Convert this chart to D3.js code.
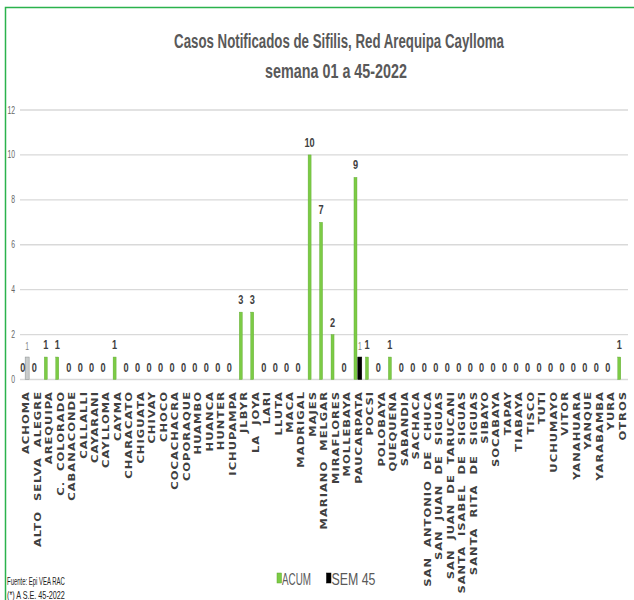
<!DOCTYPE html>
<meta charset="utf-8">
<style>
body{
  margin: 0px;
  background: white;
  font-family: "Liberation Sans", Arial, sans-serif;
}
svg{
  display: block;
}
.grid line{
  stroke: #d9d9d9;
  stroke-width: 1.3px;
}
.xlab{
  font-family: "DejaVu Sans", Verdana, sans-serif;
  font-weight: bold;
  fill: #404040;
}
</style>
<body>
<div id='chart'></div>
<script src="https://cdn.jsdelivr.net/npm/d3@7"></script>
<script>
var categories = ['ACHOMA', 'ALTO SELVA ALEGRE', 'AREQUIPA', 'C. COLORADO', 'CABANACONDE',
  'CALLALLI', 'CAYARANI', 'CAYLLOMA', 'CAYMA', 'CHARACATO', 'CHIGUATA', 'CHIVAY', 'CHOCO',
  'COCACHACRA', 'COPORAQUE', 'HUAMBO', 'HUANCA', 'HUNTER', 'ICHUPAMPA', 'JLBYR', 'LA JOYA',
  'LARI', 'LLUTA', 'MACA', 'MADRIGAL', 'MAJES', 'MARIANO MELGAR', 'MIRAFLORES', 'MOLLEBAYA',
  'PAUCARPATA', 'POCSI', 'POLOBAYA', 'QUEQUEÑA', 'SABANDIA', 'SACHACA', 'SAN ANTONIO DE CHUCA',
  'SAN JUAN DE SIGUAS', 'SAN JUAN DE TARUCANI', 'SANTA ISABEL DE SIGUAS', 'SANTA RITA DE SIGUAS',
  'SIBAYO', 'SOCABAYA', 'TAPAY', 'TIABAYA', 'TISCO', 'TUTI', 'UCHUMAYO', 'VITOR', 'YANAHUARA',
  'YANQUE', 'YARABAMBA', 'YURA', 'OTROS']

var acum = [0, 0, 1, 1, 0, 0, 0, 0, 1, 0, 0, 0, 0, 0, 0, 0, 0, 0, 0, 3, 3, 0, 0, 0, 0, 10, 7, 2, 0,
  9, 1, 0, 1, 0, 0, 0, 0, 0, 0, 0, 0, 0, 0, 0, 0, 0, 0, 0, 0, 0, 0, 0, 1]

var sem45 = [1, 0, 0, 0, 0, 0, 0, 0, 0, 0, 0, 0, 0, 0, 0, 0, 0, 0, 0, 0, 0, 0, 0, 0, 0, 0, 0, 0, 0,
  1, 0, 0, 0, 0, 0, 0, 0, 0, 0, 0, 0, 0, 0, 0, 0, 0, 0, 0, 0, 0, 0, 0, 0]

// the first SEM 45 bar shows up greyed out in the original
var semMuted = ['ACHOMA']

var series = ['ACUM', 'SEM 45']
var yTicks = [0, 2, 4, 6, 8, 10, 12]
var title = ['Casos Notificados de Sifilis, Red Arequipa Caylloma', 'semana 01 a 45-2022']
var footer = ['Fuente: Epi VEA RAC', '(*) A S.E. 45-2022']

var width = 634, height = 600
var SX = 0.68   // the picture is squeezed sideways, so is the text

var svg = d3.select('#chart').append('svg')
    .attr('width', width)
    .attr('height', height)

// green frame, left and top
svg.append('path')
    .attr('d', 'M5.5,600 V7.5 H634')
    .attr('fill', 'none')
    .attr('stroke', '#2bb24c')
    .attr('stroke-width', 1.5)

var x0 = d3.scaleBand().domain(categories).range([20.7, 20.7 + 53 * 11.47])
var x1 = d3.scaleBand().domain(series).range([0, 8.6])
var y = d3.scaleLinear().domain([0, 12]).range([379.5, 110])

function squash(x, yy, extra, sx){
  return 'translate(' + x + ',' + yy + ') scale(' + (sx || SX) + ',1)' + (extra || '')
}

// squeeze a text to a given width
function fitTo(sel, w){
  sel.each(function(d, i){
    var t = d3.select(this)
    var len = this.getComputedTextLength()
    var ww = typeof w == 'function' ? w(d, i) : w
    t.attr('transform', squash(+t.attr('data-x'), +t.attr('data-y'), '', ww / len))
  })
}

// title
svg.selectAll('.title').data(title).enter().append('text')
    .attr('class', 'title')
    .attr('data-x', (d, i) => i ? 336 : 339)
    .attr('data-y', (d, i) => i ? 78 : 48)
    .attr('text-anchor', 'middle')
    .style('font-size', '20px')
    .style('font-weight', 'bold')
    .style('fill', '#595959')
    .text(d => d)
    .call(fitTo, (d, i) => i ? 142 : 330)

// grid + y labels
var grid = svg.append('g').attr('class', 'grid')
grid.selectAll('line').data(yTicks).enter().append('line')
    .attr('x1', 20).attr('x2', 628)
    .attr('y1', d => y(d)).attr('y2', d => y(d))

svg.selectAll('.ytick').data(yTicks).enter().append('text')
    .attr('class', 'ytick')
    .attr('text-anchor', 'end')
    .attr('dy', '0.35em')
    .attr('transform', d => squash(15, y(d)))
    .style('font-size', '10px')
    .style('fill', '#666')
    .text(d => d)

// bars
var rows = categories.map((c, i) => ({cat: c, acum: acum[i], sem: sem45[i]}))

var g = svg.append('g')

g.selectAll('.acum').data(rows).enter().append('rect')
    .attr('class', 'acum')
    .attr('x', d => x0(d.cat) + x1('ACUM') + x1.bandwidth() / 2 - 1.5)
    .attr('width', 3)
    .attr('y', d => y(d.acum))
    .attr('height', d => y(0) - y(d.acum))
    .attr('fill', '#7ccb45')
    .attr('stroke', '#5fa832')
    .attr('stroke-width', 0.4)

g.selectAll('.sem').data(rows.filter(d => d.sem > 0)).enter().append('rect')
    .attr('class', 'sem')
    .attr('x', d => x0(d.cat) + x1('SEM 45') + x1.bandwidth() / 2 - 2)
    .attr('width', 4)
    .attr('y', d => y(d.sem))
    .attr('height', d => y(0) - y(d.sem))
    .attr('fill', d => semMuted.includes(d.cat) ? '#c9cccc' : '#000')
    .attr('stroke', d => semMuted.includes(d.cat) ? '#8a8f8f' : '#000')
    .attr('stroke-width', 0.5)

// value labels
g.selectAll('.lab').data(rows).enter().append('text')
    .attr('class', 'lab')
    .attr('text-anchor', 'middle')
    .attr('transform', d => squash(x0(d.cat) + x1('ACUM') + x1.bandwidth() / 2, y(d.acum) - 8))
    .style('font-size', '13.5px')
    .style('font-weight', 'bold')
    .style('fill', '#404040')
    .text(d => d.acum)

g.selectAll('.slab').data(rows.filter(d => d.sem > 0)).enter().append('text')
    .attr('class', 'slab')
    .attr('text-anchor', 'middle')
    .attr('transform', d => squash(x0(d.cat) + x1('SEM 45') + x1.bandwidth() / 2, y(d.sem) - 7))
    .style('font-size', '10px')
    .style('fill', '#7f7f7f')
    .text(d => d.sem)

// category labels
svg.selectAll('.xlab').data(categories).enter().append('text')
    .attr('class', 'xlab')
    .attr('text-anchor', 'end')
    .attr('dy', '0.35em')
    .attr('transform', d => squash(x0(d) + x0.bandwidth() / 2, 391, ' rotate(-90)'))
    .style('font-size', '11.5px')
    .style('letter-spacing', '1px')
    .style('word-spacing', '5px')
    .text(d => d)

// legend
var leg = svg.append('g')
var legX = [277, 326.5]
var legW = [29, 44]
leg.selectAll('rect').data(series).enter().append('rect')
    .attr('x', (d, i) => legX[i])
    .attr('y', 573)
    .attr('width', 4.5)
    .attr('height', 10)
    .attr('fill', (d, i) => i ? '#000' : '#7ccb45')
    .attr('stroke', (d, i) => i ? '#000' : '#5fa832')
    .attr('stroke-width', 0.5)
leg.selectAll('text').data(series).enter().append('text')
    .attr('data-x', (d, i) => legX[i] + 5)
    .attr('data-y', 585)
    .style('font-size', '16px')
    .style('fill', '#595959')
    .text(d => d)
    .call(fitTo, (d, i) => legW[i])

// source
svg.selectAll('.foot').data(footer).enter().append('text')
    .attr('class', 'foot')
    .attr('data-x', 7)
    .attr('data-y', (d, i) => 585 + i * 14)
    .style('font-size', '11px')
    .style('fill', '#222')
    .text(d => d)
    .call(fitTo, 58)
</script>
